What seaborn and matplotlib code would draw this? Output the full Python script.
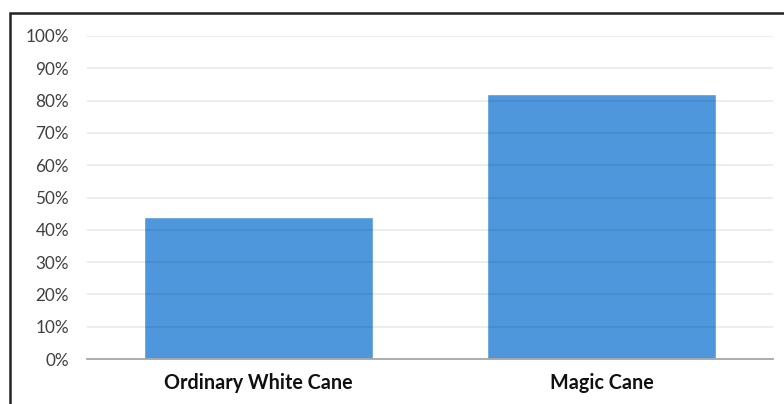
import pandas as pd
import seaborn as sns
import matplotlib.pyplot as plt
from matplotlib.patches import Rectangle
from matplotlib.ticker import PercentFormatter

# Chart data
categories = ["Ordinary White Cane", "Magic Cane"]
values = [44, 82]
y_ticks = list(range(0, 101, 10))

df = pd.DataFrame({"cane": categories, "pct": values})

sns.set_style("white")
plt.rcParams["font.family"] = ["Lato", "DejaVu Sans"]

fig = plt.figure(figsize=(7.84, 4.04), dpi=100)
ax = fig.add_axes([87 / 784, 45 / 404, 686 / 784, 323 / 404])

sns.barplot(data=df, x="cane", y="pct", color="#4f97dc", saturation=1,
            width=0.665, ax=ax, zorder=2)

ax.set_ylim(0, 100)
ax.set_xlim(-0.5, 1.5)
ax.set_yticks(y_ticks)
ax.yaxis.set_major_formatter(PercentFormatter(decimals=0))
for y in y_ticks[1:]:
    ax.axhline(y, color="#000000", alpha=0.09, lw=1.1, zorder=3)

ax.set_xlabel("")
ax.set_ylabel("")
ax.tick_params(axis="y", labelsize=12.3, colors="#404040", length=0, pad=13)
ax.tick_params(axis="x", labelsize=14.2, length=0, pad=10)
for lbl in ax.get_xticklabels():
    lbl.set_fontweight("bold")
    lbl.set_color("#111111")

for side in ["top", "right", "left"]:
    ax.spines[side].set_visible(False)
ax.spines["bottom"].set_color("#a6a6a6")
ax.spines["bottom"].set_linewidth(1.3)
ax.spines["bottom"].set_zorder(4)

# outer frame of the original picture
fig.patches.append(Rectangle((10 / 784, -0.05), 1.0, (404 - 13) / 404 + 0.05,
                             transform=fig.transFigure, fill=False,
                             edgecolor="#222222", linewidth=1.8))

fig.savefig("out.png", dpi=100)
plt.close(fig)
